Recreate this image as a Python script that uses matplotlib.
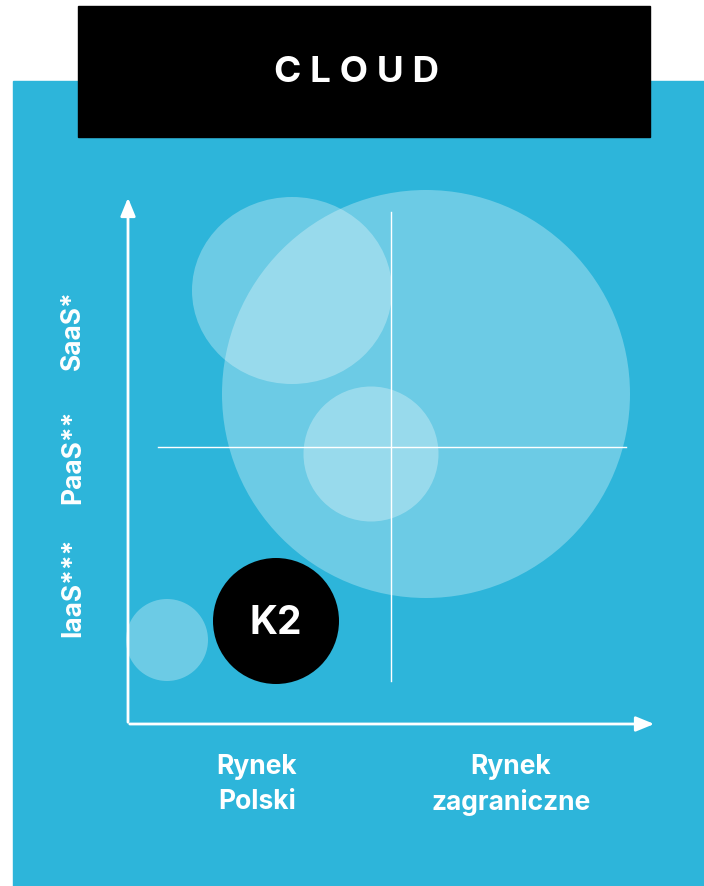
import matplotlib.pyplot as plt
from matplotlib.patches import Circle, Ellipse, Rectangle

plt.rcParams['font.family'] = ['Inter', 'DejaVu Sans']

# bubbles (centre x, centre y, width, height) in picture units, y grows downwards
bubble_x = [426, 292, 371, 167]
bubble_y = [395, 291.5, 455, 641]
bubble_w = [408, 200, 135, 82]
bubble_h = [408, 187, 135, 82]

k2_x, k2_y, k2_r = 276, 622, 63

y_labels = ["SaaS*", "PaaS**", "IaaS***"]
y_label_pos = [330, 457, 587]
x_labels = ["Rynek\nPolski", "Rynek\nzagraniczne"]
x_label_pos = [257, 511]

blue = "#2db5da"

fig = plt.figure(figsize=(7.04, 8.87), dpi=100)
ax = fig.add_axes([0, 0, 1, 1])
ax.set_xlim(0, 704)
ax.set_ylim(887, 0)
ax.axis("off")

# backgrounds
ax.add_patch(Rectangle((13, 82), 704 - 13, 887 - 82, color=blue, zorder=0))
ax.add_patch(Rectangle((78, 7), 572, 131, color="black", zorder=5))
ax.text(357, 73, "C L O U D", color="white", fontsize=26.5, fontweight="bold",
        ha="center", va="center", zorder=6)

# light bubbles
for x, y, w, h in zip(bubble_x, bubble_y, bubble_w, bubble_h):
    ax.add_patch(Ellipse((x, y), w, h, facecolor="white", alpha=0.3,
                         edgecolor="none", zorder=2))

# crosshair
ax.plot([391, 391], [213, 682], color="white", lw=1, zorder=3)
ax.plot([158, 626], [448, 448], color="white", lw=1, zorder=3)

# axes arrows
ax.annotate("", xy=(128, 196), xytext=(128, 726),
            arrowprops=dict(arrowstyle="-|>,head_length=1.1,head_width=0.45",
                            color="white", lw=2), zorder=4)
ax.annotate("", xy=(657, 725), xytext=(127, 725),
            arrowprops=dict(arrowstyle="-|>,head_length=1.1,head_width=0.45",
                            color="white", lw=2), zorder=4)

# K2 bubble
ax.add_patch(Circle((k2_x, k2_y), k2_r, facecolor="black", edgecolor="none", zorder=4))
ax.text(k2_x, k2_y + 2, "K2", color="white", fontsize=28, fontweight="bold",
        ha="center", va="center", zorder=5)

for lab, y in zip(y_labels, y_label_pos):
    ax.text(73, y, lab, color="white", fontsize=19, fontweight="bold",
            rotation=90, ha="center", va="center", zorder=4)

for lab, x in zip(x_labels, x_label_pos):
    ax.text(x, 785, lab, color="white", fontsize=19, fontweight="bold",
            ha="center", va="center", linespacing=1.45, zorder=4)

fig.savefig("out.png", dpi=100)
